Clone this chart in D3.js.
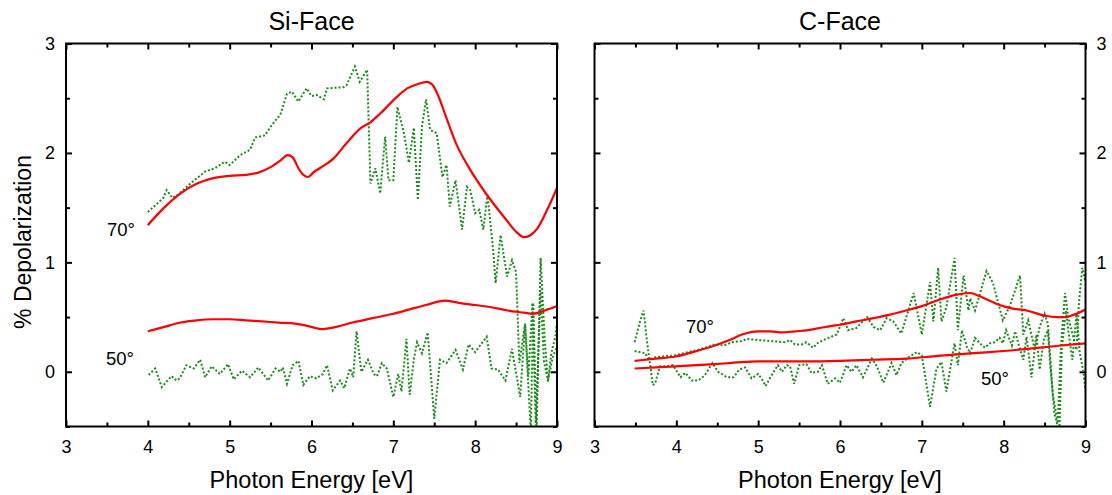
<!DOCTYPE html>
<html>
<head>
<meta charset="utf-8">
<script src="https://cdn.jsdelivr.net/npm/d3@7"></script>
<style>
  body { margin: 0; background: #fff; }
  svg { display: block; font-family: "Liberation Sans", Arial, sans-serif; }
</style>
</head>
<body>
<div id="chart"></div>
<script>
// panel titles and axis ticks
const panelTitles = ['Si-Face', 'C-Face'];
const xMajor = [3, 4, 5, 6, 7, 8, 9];
const xMinor = [3.5, 4.5, 5.5, 6.5, 7.5, 8.5];
const yMajor = [0, 1, 2, 3];
const yMinor = [-0.5, 0.5, 1.5, 2.5];

// Si-Face: [energy eV, % depolarization]
const siCalc70 = [[4.0,1.34],[4.2,1.50],[4.4,1.63],[4.6,1.72],[4.8,1.77],[5.0,1.79],[5.2,1.80],[5.35,1.82],[5.5,1.87],[5.62,1.93],[5.71,1.98],[5.77,1.96],[5.84,1.86],[5.9,1.80],[5.96,1.78],[6.02,1.82],[6.1,1.86],[6.27,1.95],[6.43,2.09],[6.59,2.22],[6.72,2.28],[6.84,2.36],[7.04,2.51],[7.17,2.59],[7.3,2.63],[7.41,2.65],[7.48,2.62],[7.55,2.52],[7.62,2.38],[7.77,2.08],[7.92,1.87],[8.14,1.62],[8.39,1.38],[8.5,1.28],[8.6,1.23],[8.68,1.25],[8.76,1.31],[8.88,1.48],[9.0,1.68]];
const siCalc50 = [[4.0,0.37],[4.2,0.41],[4.4,0.45],[4.6,0.47],[4.8,0.48],[5.0,0.48],[5.2,0.47],[5.4,0.46],[5.6,0.45],[5.8,0.44],[5.95,0.42],[6.05,0.40],[6.12,0.39],[6.3,0.41],[6.5,0.45],[6.75,0.49],[7.0,0.53],[7.2,0.57],[7.4,0.61],[7.63,0.65],[7.8,0.63],[8.0,0.61],[8.2,0.59],[8.4,0.56],[8.6,0.54],[8.7,0.53],[8.85,0.56],[9.0,0.60]];
const siMeas70 = [[4.0,1.46],[4.09,1.52],[4.19,1.59],[4.23,1.66],[4.3,1.59],[4.37,1.62],[4.52,1.72],[4.7,1.83],[4.82,1.86],[4.94,1.92],[5.0,1.89],[5.13,1.98],[5.25,2.03],[5.31,2.14],[5.43,2.16],[5.52,2.26],[5.62,2.35],[5.7,2.54],[5.76,2.56],[5.84,2.47],[5.94,2.59],[6.0,2.52],[6.06,2.53],[6.15,2.49],[6.19,2.59],[6.39,2.60],[6.43,2.62],[6.53,2.79],[6.59,2.65],[6.68,2.76],[6.72,1.72],[6.78,1.86],[6.84,1.63],[6.9,2.15],[6.94,1.75],[7.0,1.75],[7.05,2.42],[7.13,2.18],[7.19,1.91],[7.25,2.23],[7.3,1.57],[7.35,2.24],[7.4,2.49],[7.45,2.21],[7.53,2.18],[7.6,1.78],[7.65,1.89],[7.69,1.51],[7.76,1.75],[7.84,1.30],[7.9,1.69],[7.94,1.66],[8.0,1.45],[8.05,1.48],[8.1,1.30],[8.15,1.62],[8.22,1.11],[8.25,0.81],[8.31,1.25],[8.39,0.87],[8.45,1.02],[8.5,0.91],[8.54,0.08],[8.61,0.44],[8.68,-0.55],[8.71,0.63],[8.75,-0.55],[8.8,1.04],[8.85,0.29],[8.89,-0.09],[8.93,0.17],[8.98,0.32],[9.0,0.45]];
const siMeas50 = [[4.01,-0.03],[4.09,0.03],[4.17,-0.14],[4.29,-0.04],[4.35,-0.08],[4.39,-0.06],[4.47,0.06],[4.56,0.03],[4.64,0.11],[4.7,-0.05],[4.78,0.05],[4.88,-0.02],[4.98,0.07],[5.05,-0.07],[5.15,0.01],[5.25,-0.05],[5.35,0.04],[5.47,-0.08],[5.56,0.03],[5.62,0.0],[5.65,0.04],[5.7,-0.11],[5.77,0.06],[5.84,0.10],[5.9,-0.12],[5.98,-0.04],[6.06,-0.06],[6.14,-0.02],[6.19,0.06],[6.26,-0.17],[6.35,-0.08],[6.4,-0.15],[6.47,0.03],[6.51,-0.05],[6.55,0.37],[6.61,0.0],[6.69,0.11],[6.76,-0.02],[6.8,-0.04],[6.86,0.08],[6.92,0.03],[7.0,-0.23],[7.06,-0.02],[7.1,-0.18],[7.16,0.30],[7.2,-0.21],[7.25,0.11],[7.29,0.27],[7.35,0.17],[7.42,0.36],[7.5,-0.43],[7.57,0.11],[7.65,0.08],[7.76,0.20],[7.85,0.02],[7.92,0.25],[8.0,0.18],[8.14,0.32],[8.2,0.03],[8.28,0.02],[8.37,-0.08],[8.45,0.21],[8.55,-0.23],[8.61,0.44],[8.65,-0.05],[8.7,0.63],[8.74,-0.47],[8.8,0.75],[8.84,0.10],[8.89,-0.08],[8.95,0.14],[9.0,0.23]];

// C-Face
const cCalc70 = [[3.49,0.10],[3.75,0.12],[3.99,0.14],[4.2,0.18],[4.47,0.24],[4.65,0.29],[4.8,0.34],[5.0,0.37],[5.15,0.37],[5.29,0.36],[5.45,0.37],[5.61,0.38],[5.75,0.40],[5.9,0.42],[6.0,0.43],[6.2,0.46],[6.41,0.49],[6.6,0.52],[6.81,0.56],[7.0,0.60],[7.22,0.66],[7.4,0.70],[7.59,0.72],[7.71,0.69],[7.83,0.65],[7.95,0.61],[8.1,0.58],[8.28,0.56],[8.52,0.51],[8.65,0.50],[8.75,0.50],[8.85,0.52],[9.0,0.57]];
const cCalc50 = [[3.49,0.03],[3.75,0.04],[3.99,0.05],[4.25,0.06],[4.47,0.07],[4.65,0.08],[4.84,0.09],[5.0,0.095],[5.21,0.095],[5.6,0.095],[6.0,0.10],[6.4,0.11],[6.81,0.12],[7.2,0.145],[7.63,0.17],[8.0,0.19],[8.44,0.22],[8.7,0.24],[9.0,0.26]];
const cMeas70 = [[3.49,0.27],[3.56,0.47],[3.6,0.56],[3.63,0.35],[3.67,0.11],[3.72,0.13],[3.82,0.14],[3.99,0.15],[4.15,0.18],[4.31,0.21],[4.47,0.25],[4.58,0.24],[4.68,0.27],[4.8,0.28],[4.86,0.30],[5.0,0.29],[5.17,0.28],[5.33,0.27],[5.39,0.29],[5.45,0.25],[5.53,0.25],[5.59,0.27],[5.67,0.22],[5.74,0.27],[5.86,0.31],[5.96,0.34],[6.04,0.49],[6.1,0.38],[6.2,0.40],[6.33,0.50],[6.41,0.41],[6.49,0.38],[6.57,0.49],[6.65,0.46],[6.75,0.35],[6.9,0.72],[7.0,0.34],[7.1,0.82],[7.14,0.46],[7.2,0.95],[7.24,0.46],[7.3,0.59],[7.4,1.04],[7.44,0.38],[7.51,0.88],[7.57,0.56],[7.59,0.67],[7.65,0.56],[7.79,0.92],[7.87,0.81],[7.99,0.47],[8.08,0.61],[8.2,0.88],[8.24,0.34],[8.3,0.47],[8.38,0.20],[8.44,0.41],[8.5,0.53],[8.54,0.44],[8.6,-0.20],[8.66,-0.47],[8.7,0.23],[8.75,0.72],[8.79,0.50],[8.83,0.38],[8.89,0.20],[8.92,0.63],[8.96,0.95],[9.0,0.82]];
const cMeas50 = [[3.49,0.19],[3.62,0.17],[3.68,0.08],[3.71,-0.12],[3.74,-0.11],[3.8,0.05],[3.88,0.05],[3.96,0.06],[4.05,-0.05],[4.11,-0.01],[4.19,-0.08],[4.27,-0.08],[4.35,-0.03],[4.44,0.08],[4.51,0.0],[4.62,-0.05],[4.7,-0.05],[4.77,0.02],[4.84,0.04],[4.92,-0.06],[5.0,-0.02],[5.04,-0.06],[5.09,-0.13],[5.15,-0.05],[5.24,0.06],[5.29,0.0],[5.35,0.06],[5.39,0.05],[5.44,-0.11],[5.5,0.06],[5.59,0.07],[5.65,-0.01],[5.73,0.0],[5.78,0.06],[5.85,-0.11],[5.94,-0.06],[6.0,-0.10],[6.08,0.06],[6.14,0.0],[6.2,0.06],[6.28,-0.05],[6.39,0.12],[6.45,0.05],[6.53,-0.10],[6.63,0.08],[6.69,-0.03],[6.75,0.08],[6.85,0.14],[6.94,0.18],[7.0,0.15],[7.1,-0.32],[7.18,0.03],[7.24,0.09],[7.3,-0.18],[7.4,0.26],[7.44,0.06],[7.49,0.38],[7.55,0.23],[7.59,0.17],[7.65,0.31],[7.71,0.26],[7.77,0.22],[7.83,0.26],[7.89,0.27],[7.95,0.31],[7.99,0.26],[8.03,0.38],[8.1,0.24],[8.14,0.37],[8.19,0.23],[8.24,0.11],[8.28,0.32],[8.34,-0.05],[8.4,0.34],[8.44,0.02],[8.49,0.29],[8.54,0.38],[8.57,0.05],[8.62,-0.38],[8.68,-0.55],[8.71,0.20],[8.76,0.56],[8.8,0.32],[8.84,0.11],[8.89,0.53],[8.93,0.17],[8.97,0.02],[9.0,-0.17]];

const width = 1112, height = 495;
const plotTop = 43.5, plotBottom = 426.5;
const fontTick = 18;

const svg = d3.select('#chart').append('svg')
  .attr('width', width)
  .attr('height', height);

function drawPanel(opts) {
  const x = d3.scaleLinear().domain([3, 9]).range([opts.x0, opts.x1]);
  const y = d3.scaleLinear().domain([-0.5, 3]).range([plotBottom, plotTop]);
  const g = svg.append('g');

  g.append('clipPath').attr('id', opts.id)
    .append('rect')
    .attr('x', opts.x0).attr('y', plotTop)
    .attr('width', opts.x1 - opts.x0).attr('height', plotBottom - plotTop);

  // ticks: all point inward
  const makers = [
    () => d3.axisBottom(x), () => d3.axisTop(x),
    () => d3.axisLeft(y), () => d3.axisRight(y)
  ];
  const transforms = [
    `translate(0,${plotBottom})`, `translate(0,${plotTop})`,
    `translate(${opts.x0},0)`, `translate(${opts.x1},0)`
  ];
  const labelled = [opts.labelBottom, false, opts.labelLeft, opts.labelRight];

  makers.forEach((make, i) => {
    const horiz = i < 2;
    const major = make().tickValues(horiz ? xMajor : yMajor).tickSize(-6).tickSizeOuter(0)
      .tickPadding(horiz ? 14 : 11)
      .tickFormat(labelled[i] ? d3.format('d') : () => '');
    const a = g.append('g').attr('transform', transforms[i]).call(major);
    a.select('.domain').remove();
    a.selectAll('line').attr('stroke', '#000').attr('stroke-width', 2);
    a.selectAll('text').attr('font-size', fontTick).attr('fill', '#000')
      .attr('font-family', '"Liberation Sans", Arial, sans-serif');

    const minor = make().tickValues(horiz ? xMinor : yMinor).tickSize(-4).tickSizeOuter(0)
      .tickFormat(() => '');
    const m = g.append('g').attr('transform', transforms[i]).call(minor);
    m.select('.domain').remove();
    m.selectAll('line').attr('stroke', '#000').attr('stroke-width', 2);
  });

  const line = d3.line().x(d => x(d[0])).y(d => y(d[1]));
  const smooth = d3.line().x(d => x(d[0])).y(d => y(d[1])).curve(d3.curveMonotoneX);

  const plot = g.append('g').attr('clip-path', `url(#${opts.id})`);
  opts.meas.forEach(s => {
    plot.append('path').datum(s)
      .attr('d', line)
      .attr('fill', 'none')
      .attr('stroke', '#1a8c1a')
      .attr('stroke-width', 2)
      .attr('stroke-dasharray', '2,2');
  });
  opts.calc.forEach(s => {
    plot.append('path').datum(s)
      .attr('d', smooth)
      .attr('fill', 'none')
      .attr('stroke', '#ff0000')
      .attr('stroke-width', 2.2);
  });

  // frame
  g.append('rect')
    .attr('x', opts.x0).attr('y', plotTop)
    .attr('width', opts.x1 - opts.x0).attr('height', plotBottom - plotTop)
    .attr('fill', 'none').attr('stroke', '#000').attr('stroke-width', 2);

  const cx = (opts.x0 + opts.x1) / 2;
  g.append('text').attr('x', cx).attr('y', 30)
    .attr('text-anchor', 'middle').attr('font-size', 25)
    .text(opts.title);
  g.append('text').attr('x', cx).attr('y', 488)
    .attr('text-anchor', 'middle').attr('font-size', 23.5)
    .text('Photon Energy [eV]');

  opts.notes.forEach(n => {
    g.append('text').attr('x', n.x).attr('y', n.y)
      .attr('font-size', 18.5)
      .text(n.text);
  });
}

drawPanel({
  id: 'clipSi', x0: 66, x1: 557, title: panelTitles[0],
  labelBottom: true, labelLeft: true, labelRight: false,
  meas: [siMeas70, siMeas50], calc: [siCalc70, siCalc50],
  notes: [{ text: '70°', x: 107, y: 236 }, { text: '50°', x: 106, y: 365 }]
});
drawPanel({
  id: 'clipC', x0: 594.5, x1: 1085.5, title: panelTitles[1],
  labelBottom: true, labelLeft: false, labelRight: true,
  meas: [cMeas70, cMeas50], calc: [cCalc70, cCalc50],
  notes: [{ text: '70°', x: 686, y: 333 }, { text: '50°', x: 981, y: 385 }]
});

svg.append('text')
  .attr('transform', `translate(31,242) rotate(-90)`)
  .attr('text-anchor', 'middle')
  .attr('font-size', 23)
  .text('% Depolarization');
</script>
</body>
</html>
